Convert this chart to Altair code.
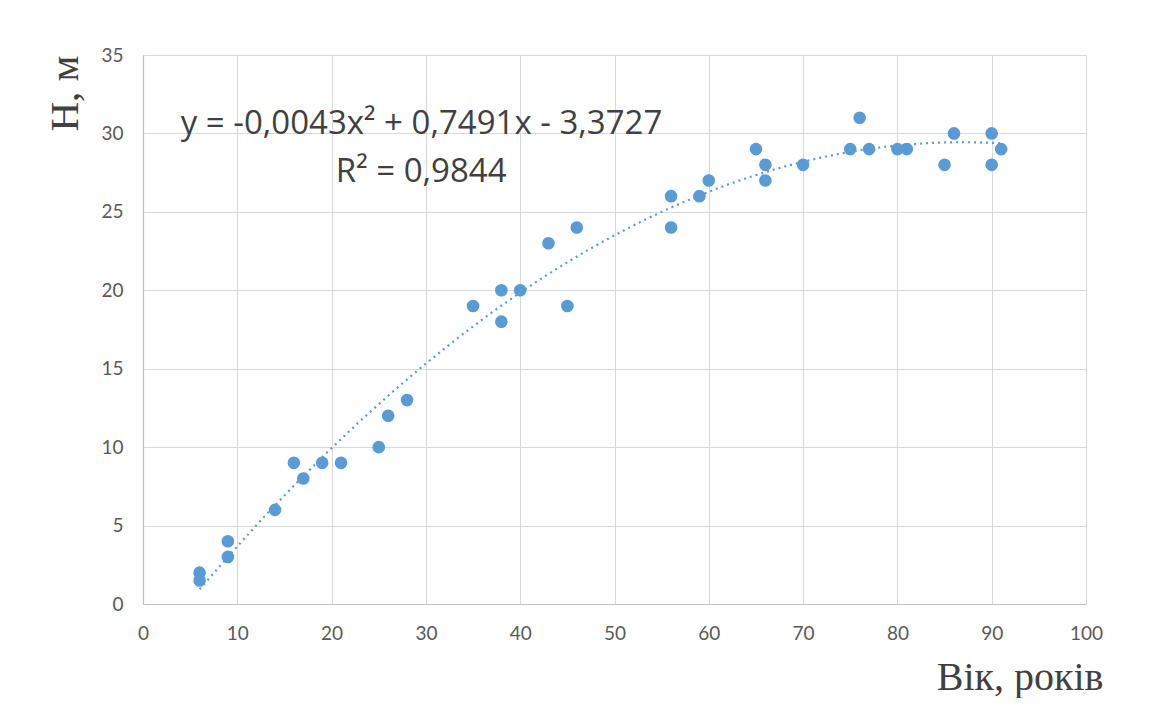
import altair as alt
import pandas as pd

# Data
age = [6, 6, 9, 9, 14, 16, 17, 19, 21, 25, 26, 28,
       35, 38, 38, 40, 43, 45, 46,
       56, 56, 59, 60, 65, 66, 66, 70,
       75, 76, 77, 80, 81, 85, 86, 90, 90, 91]
height = [2, 1.5, 4, 3, 6, 9, 8, 9, 9, 10, 12, 13,
          19, 20, 18, 20, 23, 19, 24,
          26, 24, 26, 27, 29, 28, 27, 28,
          29, 31, 29, 29, 29, 28, 30, 30, 28, 29]

x_ticks = [0, 10, 20, 30, 40, 50, 60, 70, 80, 90, 100]
y_ticks = [0, 5, 10, 15, 20, 25, 30, 35]

eq_text = ["y = -0,0043x² + 0,7491x - 3,3727", "R² = 0,9844"]
eq_x = [4.0, 29.5]
eq_y = [29.95, 26.9]
eq_align = ["left", "center"]

BLUE = "#5B9BD5"

df = pd.DataFrame({"age": age, "h": height})
ann = pd.DataFrame({"t": eq_text, "x": eq_x, "y": eq_y, "a": eq_align})

xscale = alt.Scale(domain=[0, 100], nice=False, zero=False)
yscale = alt.Scale(domain=[0, 35], nice=False, zero=False)

xaxis = alt.Axis(values=x_ticks, title="Вік, років", ticks=False,
                 labelPadding=20, labelFlush=False, titleX=960, titleY=85,
                 titleAlign="right", titleBaseline="alphabetic",
                 titleAnchor="start")
yaxis = alt.Axis(values=y_ticks, title="H, м", ticks=False,
                 labelPadding=20, labelFlush=False, titleX=-66, titleY=0,
                 titleAngle=-90, titleAlign="right",
                 titleBaseline="alphabetic", titleAnchor="start")

base = alt.Chart(df)

points = base.mark_circle(size=160, color=BLUE, opacity=1).encode(
    x=alt.X("age:Q", scale=xscale, axis=xaxis),
    y=alt.Y("h:Q", scale=yscale, axis=yaxis),
)

trend = base.transform_regression(
    "age", "h", method="poly", order=2
).mark_line(color=BLUE, strokeWidth=2.2, strokeDash=[2, 4]).encode(
    x=alt.X("age:Q", scale=xscale),
    y=alt.Y("h:Q", scale=yscale),
)

eq1 = alt.Chart(ann[ann.a == "left"]).mark_text(
    align="left", baseline="alphabetic", font="Open Sans", fontSize=33, color="#404040"
).encode(x=alt.X("x:Q", scale=xscale), y=alt.Y("y:Q", scale=yscale), text="t:N")

eq2 = alt.Chart(ann[ann.a == "center"]).mark_text(
    align="center", baseline="alphabetic", font="Open Sans", fontSize=33, color="#404040"
).encode(x=alt.X("x:Q", scale=xscale), y=alt.Y("y:Q", scale=yscale), text="t:N")

chart = alt.layer(trend, points, eq1, eq2).properties(
    width=943, height=549,
    padding={"left": 135, "top": 47, "right": 56, "bottom": 94},
    autosize=alt.AutoSizeParams(type="none"),
    background="white",
).configure_view(stroke=None).configure_axis(
    labelFont="Lato", labelFontSize=19, labelColor="#595959",
    gridColor="#D9D9D9", gridWidth=1,
    domainColor="#BFBFBF", domainWidth=1.2,
    titleFont="Liberation Serif", titleFontWeight="normal", titleColor="#404040",
).configure_axisX(titleFontSize=40).configure_axisY(titleFontSize=41)

chart.save("out.html", embed_options={"renderer": "svg", "actions": False})
